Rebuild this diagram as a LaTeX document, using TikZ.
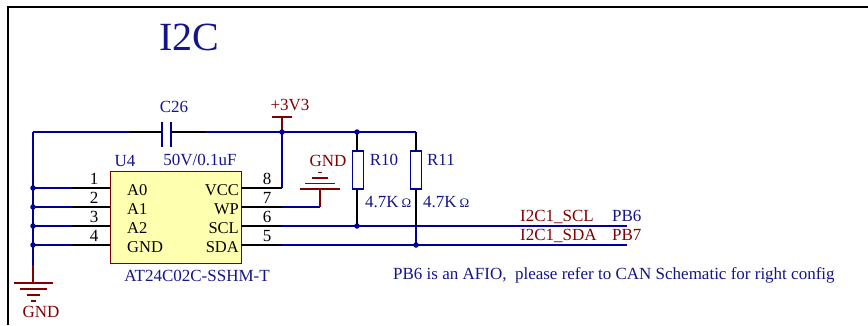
\documentclass[tikz,border=0pt]{standalone}
\usepackage{fontspec}
\setmainfont{Liberation Serif}
\definecolor{wireblue}{RGB}{0,0,150}
\definecolor{txtblue}{RGB}{20,20,140}
\definecolor{dred}{RGB}{128,0,0}
\definecolor{icfill}{RGB}{255,255,176}
\tikzset{
  wire/.style={draw=wireblue,line width=1.4pt},
  pin/.style={draw=black,line width=1.4pt},
  pwr/.style={draw=dred,line width=1.4pt},
  dot/.style={circle,fill=wireblue,inner sep=0pt,minimum size=5.5pt},
  lbl/.style={inner sep=0pt,font=\fontsize{17}{17}\selectfont},
  bl/.style={lbl,text=txtblue},
  rd/.style={lbl,text=dred},
  pinnum/.style={lbl,text=black},
  pinname/.style={lbl,text=black,font=\fontsize{16.5}{16.5}\selectfont},
  frame/.style={draw=black,line width=2.6pt}
}
\begin{document}
\begin{tikzpicture}[x=1pt,y=-1pt]
\useasboundingbox (0,0) rectangle (868,325);
% frame
\coordinate (fr1) at (8,325);
\coordinate (fr2) at (8,7);
\coordinate (fr3) at (868,7);
\draw[frame] (fr1) -- (fr2) -- (fr3);
\node[font=\fontsize{40}{40}\selectfont,text=txtblue,inner sep=0pt] (title) at (189,37) {I2C};
% coordinates
\coordinate (tl) at (33,132);
\coordinate (capL1) at (130,132);
\coordinate (capL) at (162,132);
\coordinate (capR) at (171,132);
\coordinate (capR1) at (205,132);
\coordinate (vccj) at (282,132);
\coordinate (r10t) at (357,132);
\coordinate (r11t) at (416,132);
\coordinate (gndL) at (33,265);
\coordinate (gndB) at (33,283);
% top wire and capacitor
\draw[wire] (tl) -- (capL1);
\draw[pin] (capL1) -- (capL);
\draw[pin] (capR) -- (capR1);
\draw[wire] (capR1) -- (r11t);
\draw[draw=wireblue,line width=1.6pt] (162,122) -- (162,147) (171,122) -- (171,147);
\node[bl] (c26) at (174,107) {C26};
\node[bl] (c26v) at (200,160) {50V/0.1uF};
% left vertical and ground
\draw[wire] (tl) -- (gndL);
\draw[pwr] (gndL) -- (gndB);
\draw[pwr] (14,283) -- (53,283) (20,289) -- (47,289) (27,295) -- (40,295) (31,301) -- (36,301);
\node[rd] (gndtxt) at (41,312) {GND};
% IC
\node[draw=dred,fill=icfill,line width=1pt,minimum width=131pt,minimum height=92pt,inner sep=0pt] (ic) at (175.5,217) {};
\node[bl] (u4) at (125,161) {U4};
\node[bl] (icname) at (197,276) {AT24C02C-SSHM-T};
% left pins
\foreach \n/\yy/\nm in {1/188/A0,2/207/A1,3/226/A2,4/245/GND}{
  \coordinate (lp\n a) at (33,\yy);
  \coordinate (lp\n b) at (72,\yy);
  \coordinate (lp\n c) at (110,\yy);
  \draw[wire] (lp\n a) -- (lp\n b);
  \draw[pin] (lp\n b) -- (lp\n c);
  \node[dot] (ld\n) at (lp\n a) {};
  \node[pinnum] (ln\n) at (94,\yy-9) {\n};
  \node[pinname,anchor=west] (lt\n) at (127,\yy+2) {\nm};
}
% right pins
\foreach \n/\yy/\nm in {8/188/VCC,7/207/WP,6/226/SCL,5/245/SDA}{
  \coordinate (rp\n a) at (241,\yy);
  \coordinate (rp\n b) at (282,\yy);
  \draw[pin] (rp\n a) -- (rp\n b);
  \node[pinnum] (rn\n) at (267,\yy-9) {\n};
  \node[pinname,anchor=east] (rt\n) at (239,\yy+2) {\nm};
}
% VCC
\coordinate (p33) at (282,117);
\draw[wire] (rp8b) -- (vccj);
\draw[pwr] (vccj) -- (p33);
\draw[pwr] (272,117) -- (292,117);
\node[rd] (p33t) at (290,105) {+3V3};
% WP to GND
\coordinate (wpc) at (320,207);
\coordinate (wpg) at (320,189);
\draw[wire] (rp7b) -- (wpc);
\draw[pwr] (wpc) -- (wpg);
\draw[pwr] (300,189) -- (340,189) (305,183.5) -- (335,183.5) (312,178) -- (328,178) (318,172.5) -- (322,172.5);
\node[rd] (gnd2) at (328,161) {GND};
% SCL / SDA
\coordinate (sclE) at (627,226);
\coordinate (sdaE) at (627,245);
\coordinate (r10b) at (357,226);
\coordinate (r11b) at (416,245);
\coordinate (r11m) at (416,226);
\draw[wire] (rp6b) -- (sclE);
\draw[wire] (rp5b) -- (sdaE);
% resistors
\node[draw=wireblue,line width=1.6pt,minimum width=11pt,minimum height=38pt,inner sep=0pt] (r10) at (358,170) {};
\node[draw=wireblue,line width=1.6pt,minimum width=11pt,minimum height=38pt,inner sep=0pt] (r11) at (416,170) {};
\draw[pin] (r10t) -- (r10t |- r10.north);
\draw[pin] (r10t |- r10.south) -- (r10b);
\draw[pin] (r11t) -- (r11.north);
\draw[pin] (r11.south) -- (r11m);
\draw[wire] (r11m) -- (r11b);
\node[dot] (d1) at (vccj) {};
\node[dot] (d2) at (r10t) {};
\node[dot] (d3) at (r10b) {};
\node[dot] (d4) at (r11b) {};
\node[bl] (r10l) at (384,160) {R10};
\node[bl] (r11l) at (441,160) {R11};
\node[bl,anchor=west] (r10v) at (365,202) {4.7K\,{\fontsize{13}{13}\selectfont Ω}};
\node[bl,anchor=west] (r11v) at (423,202) {4.7K\,{\fontsize{13}{13}\selectfont Ω}};
% net labels
\node[rd,anchor=base west] (scl) at (520,221) {I2C1\_SCL};
\node[bl,anchor=base west] (pb6) at (612,221) {PB6};
\node[rd,anchor=base west] (sda) at (520,240) {I2C1\_SDA};
\node[rd,anchor=base west] (pb7) at (612,240) {PB7};
\node[bl,anchor=west] (note) at (393,275) {PB6 is an AFIO,\ \ please refer to CAN Schematic for right config};
\end{tikzpicture}
\end{document}
